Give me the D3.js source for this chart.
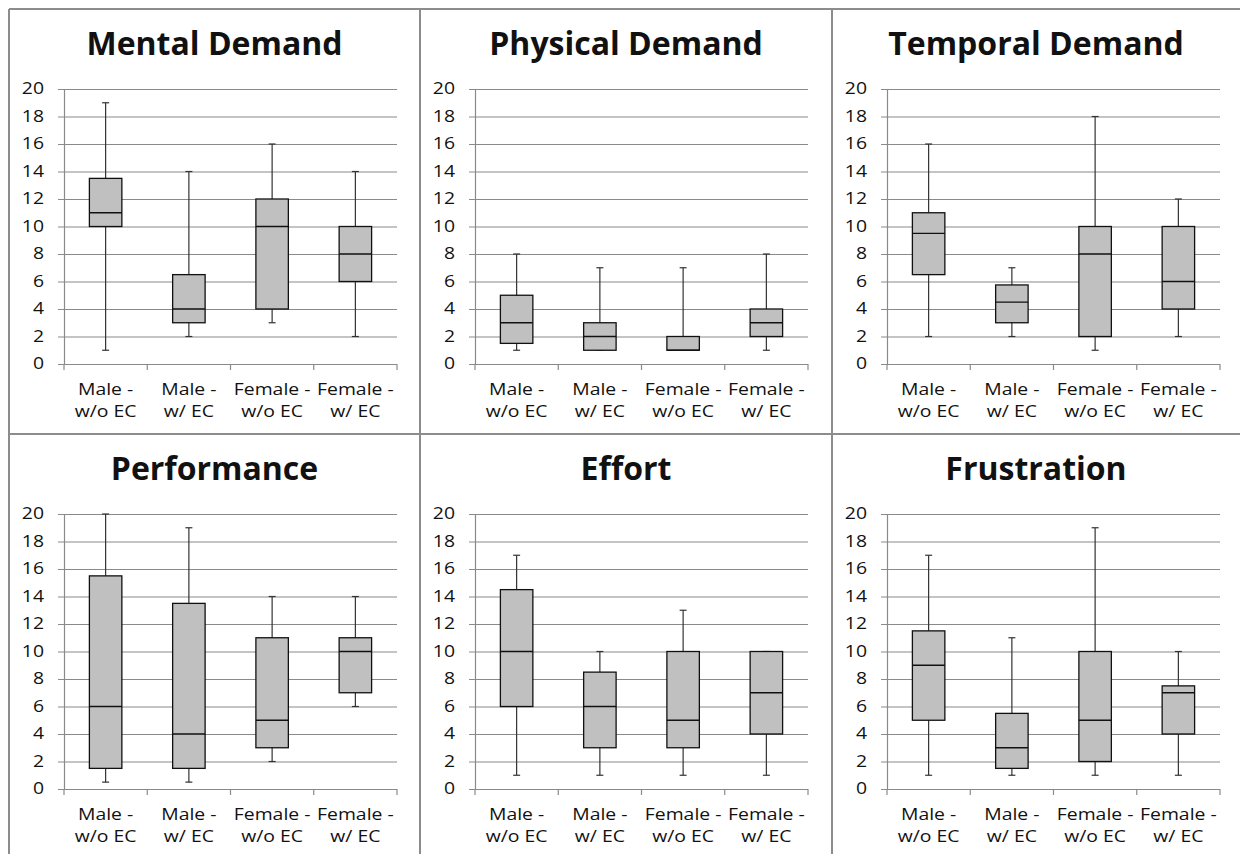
<!DOCTYPE html>
<html>
<head>
<meta charset="utf-8">
<script src="https://cdn.jsdelivr.net/npm/d3@7"></script>
<style>
body{margin:0;background:#fff;}
text{font-family:"Open Sans",sans-serif;fill:#111;}
.frame{stroke:#8c8c8c;stroke-width:2;}
.grid{stroke:#8a8a8a;stroke-width:1.2;}
.whisk{stroke:#333;stroke-width:1.2;fill:none;}
.box{fill:#c0c0c0;stroke:#111;stroke-width:1.3;}
.med{stroke:#111;stroke-width:1.3;}
</style>
</head>
<body>
<script>
// constant declaration
var wid=1240; // width
var hgh=854; // height
var colx=[9,420,832]; // panel left edges
var rowy=[9,434]; // panel top edges
var panw=[411,412,408]; // panel widths
var pl=55,pr=388,pt=80,pb=355; // plot box inside a panel
var stretch=1.25; // the source text is drawn wide
// data
var titles=['Mental Demand','Physical Demand','Temporal Demand','Performance','Effort','Frustration'];
var categories=[['Male -','w/o EC'],['Male -','w/ EC'],['Female -','w/o EC'],['Female -','w/ EC']];
var yticks=[0,2,4,6,8,10,12,14,16,18,20];
// [min, q1, median, q3, max] per group
var mental=[[1,10,11,13.5,19],[2,3,4,6.5,14],[3,4,10,12,16],[2,6,8,10,14]];
var physical=[[1,1.5,3,5,8],[1,1,2,3,7],[1,1,1,2,7],[1,2,3,4,8]];
var temporal=[[2,6.5,9.5,11,16],[2,3,4.5,5.75,7],[1,2,8,10,18],[2,4,6,10,12]];
var performance=[[0.5,1.5,6,15.5,20],[0.5,1.5,4,13.5,19],[2,3,5,11,14],[6,7,10,11,14]];
var effort=[[1,6,10,14.5,17],[1,3,6,8.5,10],[1,3,5,10,13],[1,4,7,10,10]];
var frustration=[[1,5,9,11.5,17],[1,1.5,3,5.5,11],[1,2,5,10,19],[1,4,7,7.5,10]];
var panels=[mental,physical,temporal,performance,effort,frustration];
// function declaration
var svg=d3.select('body').append('svg').attr('width',wid).attr('height',hgh);
function drawframe() {
 svg.append('line').attr('class','frame').attr('x1',colx[0]).attr('y1',rowy[0]).attr('x2',wid).attr('y2',rowy[0]);
 svg.append('line').attr('class','frame').attr('x1',colx[0]).attr('y1',rowy[1]).attr('x2',wid).attr('y2',rowy[1]);
 colx.forEach(function (x) {
   svg.append('line').attr('class','frame').attr('x1',x).attr('y1',rowy[0]).attr('x2',x).attr('y2',hgh);
 });
}
function drawpanel(k) {
 var g=svg.append('g').attr('transform','translate('+colx[k%3]+','+rowy[Math.floor(k/3)]+')');
 var data=panels[k];
 var x=d3.scaleBand().domain(d3.range(categories.length)).range([pl,pr]).padding(0);
 var y=d3.scaleLinear().domain([0,20]).range([pb,pt]);
 var bw=x.bandwidth()*0.39;
 g.append('text').attr('x',panw[k%3]/2).attr('y',46).attr('text-anchor','middle')
   .style('font-size','32px').style('font-weight','700').text(titles[k]);
 // y axis with gridlines
 var ax=g.append('g').attr('transform','translate('+pl+',0)')
   .call(d3.axisLeft(y).tickValues(yticks).tickSizeInner(-(pr-pl)).tickSizeOuter(0).tickPadding(20));
 ax.select('.domain').attr('class','grid').attr('fill','none');
 ax.selectAll('.tick line').attr('class','grid').attr('x1',-6);
 ax.selectAll('.tick text').attr('x',0).attr('transform','translate(-20,0) scale('+stretch+',1)')
   .style('font-size','15.5px').attr('fill','#111');
 // category ticks
 g.selectAll('line.ctick').data(d3.range(categories.length+1)).enter().append('line').attr('class','grid')
   .attr('x1',function (d) {return pl+d*x.step();}).attr('x2',function (d) {return pl+d*x.step();})
   .attr('y1',pb).attr('y2',pb+6);
 // category labels
 var lab=g.selectAll('text.cat').data(categories).enter().append('text').attr('class','cat')
   .attr('text-anchor','middle').style('font-size','15.5px')
   .attr('transform',function (d,i) {return 'translate('+(x(i)+x.bandwidth()/2)+',0) scale('+stretch+',1)';});
 lab.append('tspan').attr('x',0).attr('y',386).text(function (d) {return d[0];});
 lab.append('tspan').attr('x',0).attr('y',408).text(function (d) {return d[1];});
 // boxes
 var b=g.selectAll('g.bp').data(data).enter().append('g').attr('class','bp')
   .attr('transform',function (d,i) {return 'translate('+(x(i)+x.bandwidth()/2)+',0)';});
 b.append('line').attr('class','whisk').attr('x1',0).attr('x2',0)
   .attr('y1',function (d) {return y(d[0]);}).attr('y2',function (d) {return y(d[4]);});
 b.append('line').attr('class','whisk').attr('x1',-3.5).attr('x2',3.5)
   .attr('y1',function (d) {return y(d[0]);}).attr('y2',function (d) {return y(d[0]);});
 b.append('line').attr('class','whisk').attr('x1',-3.5).attr('x2',3.5)
   .attr('y1',function (d) {return y(d[4]);}).attr('y2',function (d) {return y(d[4]);});
 b.append('rect').attr('class','box').attr('x',-bw/2).attr('width',bw)
   .attr('y',function (d) {return y(d[3]);}).attr('height',function (d) {return y(d[1])-y(d[3]);});
 b.append('line').attr('class','med').attr('x1',-bw/2).attr('x2',bw/2)
   .attr('y1',function (d) {return y(d[2]);}).attr('y2',function (d) {return y(d[2]);});
}
drawframe();
for (var k=0;k<panels.length;k++) drawpanel(k);
</script>
</body>
</html>
